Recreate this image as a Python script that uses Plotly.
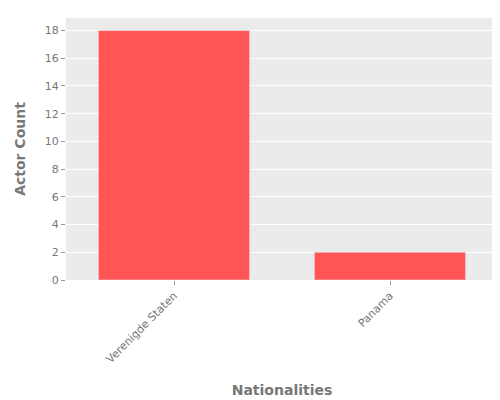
import plotly.graph_objects as go

nationalities = ["Verenigde Staten", "Panama"]
counts = [18, 2]

fig = go.Figure(go.Bar(x=nationalities, y=counts, marker_color="#FF5555", width=0.7))
fig.update_layout(
    width=500, height=400,
    margin=dict(l=58, r=10, t=10, b=128),
    paper_bgcolor="white", plot_bgcolor="#EBEBEB",
    font=dict(family="DejaVu Sans", color="#777", size=11),
    xaxis=dict(title=dict(text="<b>Nationalities</b>", font=dict(size=14), standoff=20), tickangle=-45, showgrid=False, ticks="outside", tickcolor="#999", ticklen=4),
    yaxis=dict(title=dict(text="<b>Actor Count</b>", font=dict(size=14)), gridcolor="white", range=[0, 18.9], dtick=2, zeroline=False, ticks="outside", tickcolor="#999", ticklen=4),
)
fig.write_html("out.html")
